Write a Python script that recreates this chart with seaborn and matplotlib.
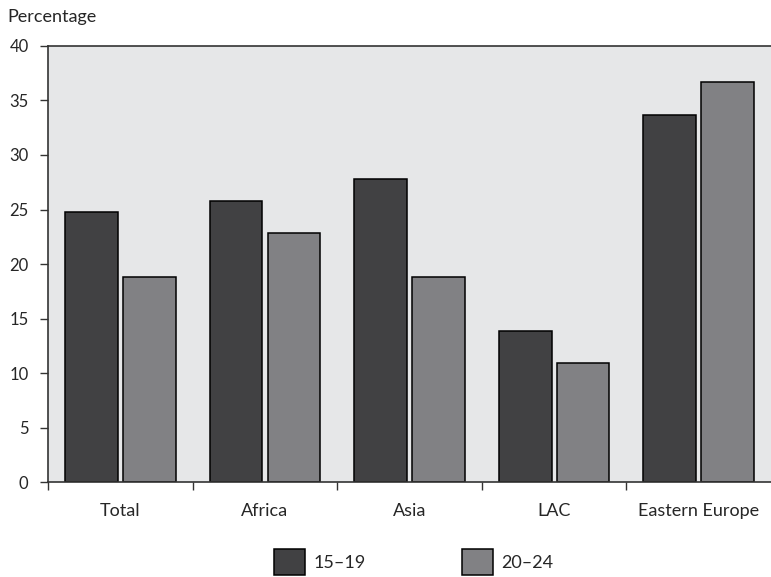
import pandas as pd
import matplotlib.pyplot as plt
import seaborn as sns

# values
regions = ['Total', 'Africa', 'Asia', 'LAC', 'Eastern Europe']
age_groups = ['15–19', '20–24']
pct_15_19 = [24.8, 25.8, 27.8, 13.9, 33.7]
pct_20_24 = [18.8, 22.8, 18.8, 10.9, 36.7]
y_ticks = [0, 5, 10, 15, 20, 25, 30, 35, 40]

df = pd.DataFrame({
    'Region': regions * 2,
    'Age': [age_groups[0]] * len(regions) + [age_groups[1]] * len(regions),
    'Percentage': pct_15_19 + pct_20_24,
})

sns.set_style('ticks')
plt.rcParams['font.family'] = ['Lato', 'DejaVu Sans']

fig = plt.figure(figsize=(7.71, 5.77), dpi=100)
ax = fig.add_axes([0.0623, 0.1646, 0.9377, 0.7557])
ax.set_facecolor('#e6e7e8')

sns.barplot(
    data=df, x='Region', y='Percentage', hue='Age',
    palette=['#414143', '#808184'], width=0.8, gap=0.09,
    edgecolor='black', linewidth=1.1, ax=ax, legend=True,
)

ax.set_ylim(0, 40)
ax.set_xlim(-0.5, len(regions) - 0.5)
ax.set_yticks(y_ticks)
ax.tick_params(axis='y', left=True, labelsize=12, length=6, width=1,
               color='#333333', pad=8, direction='out')

# group labels without marks, tick marks between groups
ax.set_xticks(range(len(regions)))
ax.set_xticklabels(regions, fontsize=13)
ax.tick_params(axis='x', which='major', bottom=True, length=0, pad=15)
ax.set_xticks([i - 0.5 for i in range(len(regions))], minor=True)
ax.tick_params(axis='x', which='minor', bottom=True, length=6, width=1,
               color='#333333', direction='out')

ax.set_xlabel('')
ax.set_ylabel('')
fig.text(0.009, 0.971, 'Percentage', fontsize=13, ha='left', va='center')

for side in ['left', 'top', 'bottom']:
    ax.spines[side].set_visible(True)
    ax.spines[side].set_color('#333333')
    ax.spines[side].set_linewidth(1.2)
ax.spines['right'].set_visible(False)

handles, labels = ax.get_legend_handles_labels()
ax.get_legend().remove()
fig.legend(
    handles, labels, loc='center', bbox_to_anchor=(0.5365, 0.026), ncol=2,
    frameon=False, fontsize=13, handlelength=1.75, handleheight=1.8,
    columnspacing=5.3, handletextpad=0.45, borderpad=0,
)

fig.savefig('out.png', dpi=100)
